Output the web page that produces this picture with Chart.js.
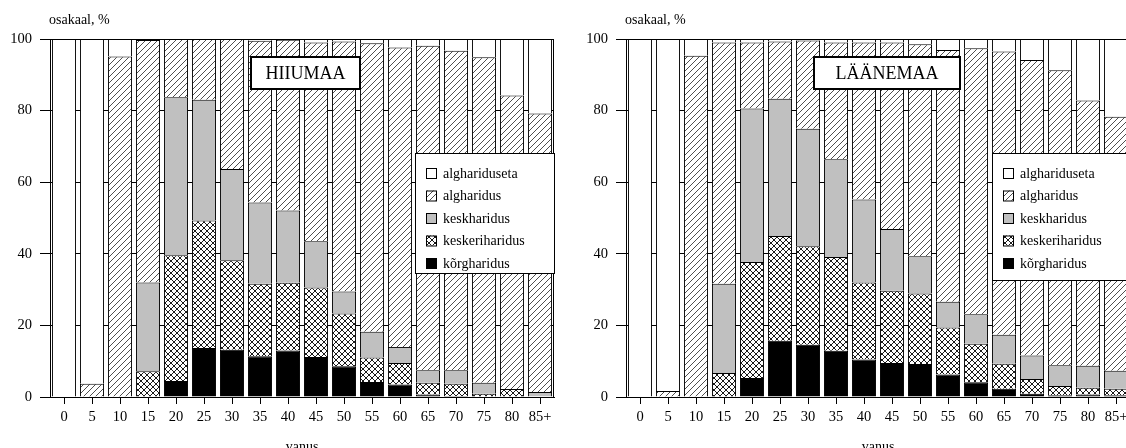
<!DOCTYPE html>
<html>
<head>
<meta charset="utf-8">
<script src="https://cdn.jsdelivr.net/npm/chart.js@4"></script>
<style>
  html, body { margin: 0; padding: 0; background: #fff; overflow: hidden; width: 1126px; height: 448px; }
  canvas { position: absolute; top: 0; }
  #hiiumaa { left: 0; }
  #laanemaa { left: 576px; }
</style>
</head>
<body>
<canvas id="hiiumaa" width="563" height="448"></canvas>
<canvas id="laanemaa" width="563" height="448"></canvas>
<script>
// vanuserühmad
const ageGroups = ["0", "5", "10", "15", "20", "25", "30", "35", "40", "45", "50", "55", "60", "65", "70", "75", "80", "85+"];
const yTicks = [0, 20, 40, 60, 80, 100];

// haridustasemed, alt üles
const levelNames = ["kõrgharidus", "keskeriharidus", "keskharidus", "algharidus", "alghariduseta"];

// HIIUMAA, osakaal %
const hiiKorg   = [0, 0, 0, 0, 4.5, 13.7, 13.2, 11.4, 13.0, 11.2, 8.6, 4.2, 3.5, 0.7, 0.3, 0, 0, 0];
const hiiKeskeri = [0, 0, 0, 7.2, 35.1, 35.6, 25.0, 20.2, 18.9, 19.4, 14.7, 6.8, 6.0, 3.3, 3.4, 0.9, 2.2, 0];
const hiiKesk   = [0, 0, 0, 24.8, 44.1, 33.7, 25.5, 22.7, 20.2, 12.9, 6.2, 7.2, 4.5, 3.5, 3.8, 3.1, 0, 1.4];
const hiiAlg    = [0, 3.7, 95.1, 67.7, 16.3, 17.0, 36.3, 45.2, 47.7, 55.5, 69.8, 80.6, 83.6, 90.6, 89.2, 90.9, 82.0, 77.8];
const hiiAlgta  = [100, 96.3, 4.9, 0.3, 0, 0, 0, 0.5, 0.2, 1.0, 0.7, 1.2, 2.4, 1.9, 3.3, 5.1, 15.8, 20.8];

// LÄÄNEMAA, osakaal %
const laaKorg   = [0, 0, 0, 0, 5.3, 15.7, 14.6, 12.9, 10.5, 9.5, 9.2, 6.3, 4.1, 2.3, 0.9, 0.5, 0.7, 0.5];
const laaKeskeri = [0, 0, 0, 6.7, 32.4, 29.3, 27.5, 26.2, 21.5, 20.2, 19.7, 13.1, 10.8, 7.0, 4.1, 2.6, 1.9, 1.8];
const laaKesk   = [0, 0, 0, 24.9, 42.9, 38.3, 32.8, 27.3, 23.2, 17.2, 10.4, 7.2, 8.2, 8.1, 6.6, 5.8, 6.1, 5.0];
const laaAlg    = [0, 1.7, 95.3, 67.4, 18.4, 16.0, 24.7, 32.6, 43.8, 52.1, 59.2, 70.3, 74.3, 79.1, 82.5, 82.4, 74.1, 71.0];
const laaAlgta  = [100, 98.3, 4.7, 1.0, 1.0, 0.7, 0.4, 1.0, 1.0, 1.0, 1.5, 3.1, 2.6, 3.5, 5.9, 8.7, 17.2, 21.7];

const serif = "'Liberation Serif', 'Times New Roman', serif";
Chart.defaults.font.family = serif;
Chart.defaults.color = "#000";

function makePatterns(ctx) {
  const hatch = document.createElement("canvas");
  hatch.width = hatch.height = 6;
  const h = hatch.getContext("2d");
  h.fillStyle = "#fff";
  h.fillRect(0, 0, 6, 6);
  h.strokeStyle = "#222";
  h.lineWidth = 0.8;
  h.beginPath();
  h.moveTo(0, 6); h.lineTo(6, 0);
  h.moveTo(-1, 1); h.lineTo(1, -1);
  h.moveTo(5, 7); h.lineTo(7, 5);
  h.stroke();

  const cross = document.createElement("canvas");
  cross.width = cross.height = 6;
  const c = cross.getContext("2d");
  c.fillStyle = "#fff";
  c.fillRect(0, 0, 6, 6);
  c.strokeStyle = "#000";
  c.lineWidth = 0.9;
  c.beginPath();
  c.moveTo(0, 6); c.lineTo(6, 0);
  c.moveTo(0, 0); c.lineTo(6, 6);
  c.stroke();

  return {
    hatch: ctx.createPattern(hatch, "repeat"),
    cross: ctx.createPattern(cross, "repeat"),
  };
}

const overlay = {
  id: "overlay",
  afterDraw(chart, args, opts) {
    const { ctx, chartArea: a } = chart;
    ctx.save();
    ctx.strokeStyle = "#000";
    ctx.lineWidth = 1;
    ctx.beginPath();
    ctx.moveTo(a.left, a.top + 0.5);
    ctx.lineTo(a.right, a.top + 0.5);
    ctx.moveTo(a.right - 0.5, a.top);
    ctx.lineTo(a.right - 0.5, a.bottom);
    ctx.stroke();

    ctx.fillStyle = "#000";
    ctx.font = "14px " + serif;
    ctx.textBaseline = "middle";
    ctx.textAlign = "left";
    ctx.fillText("osakaal, %", a.left - 1, 20);
    ctx.textAlign = "center";
    ctx.fillText("vanus", (a.left + a.right) / 2, 447);

    // maakonna nimi
    const bx = a.left + opts.boxX, by = 57;
    ctx.fillStyle = "#fff";
    ctx.fillRect(bx, by, opts.boxW, 32);
    ctx.lineWidth = 2;
    ctx.strokeRect(bx, by, opts.boxW, 32);
    ctx.fillStyle = "#000";
    ctx.font = "18px " + serif;
    ctx.fillText(opts.region, bx + opts.boxW / 2, by + 17);

    // legend
    const lx = a.left + opts.legendX, ly = 153.5;
    ctx.lineWidth = 1;
    ctx.fillStyle = "#fff";
    ctx.fillRect(lx, ly, a.right - lx, opts.legendH);
    ctx.strokeRect(lx + 0.5, ly, a.right - lx, opts.legendH);
    ctx.font = "14px " + serif;
    ctx.textAlign = "left";
    const sets = chart.data.datasets.slice().reverse();
    sets.forEach((ds, i) => {
      const y = 173 + i * 22.5;
      ctx.fillStyle = ds.backgroundColor;
      ctx.fillRect(lx + 11, y - 5, 10, 10);
      ctx.strokeRect(lx + 11.5, y - 4.5, 10, 10);
      ctx.fillStyle = "#000";
      ctx.fillText(ds.label, lx + 28, y + 1);
    });
    ctx.restore();
  },
};

function renderEducationChart(canvasId, values, region, boxX, boxW, legendX, legendH) {
  const canvas = document.getElementById(canvasId);
  const ctx = canvas.getContext("2d");
  const p = makePatterns(ctx);
  const fills = ["#000", p.cross, "#c0c0c0", p.hatch, "#fff"];

  const datasets = levelNames.map((name, i) => ({
    label: name,
    data: values[i],
    backgroundColor: fills[i],
    borderColor: "#000",
    borderWidth: { top: 1, left: 1, right: 1, bottom: 0 },
    borderSkipped: false,
    barPercentage: 0.86,
    categoryPercentage: 1,
  }));

  new Chart(canvas, {
    type: "bar",
    data: { labels: ageGroups, datasets: datasets },
    options: {
      responsive: false,
      devicePixelRatio: 1,
      animation: false,
      layout: { padding: { top: 39, right: 9, bottom: 0, left: 0 } },
      plugins: {
        legend: { display: false },
        tooltip: { enabled: false },
        overlay: { region: region, boxX: boxX, boxW: boxW, legendX: legendX, legendH: legendH },
      },
      scales: {
        x: {
          stacked: true,
          grid: { display: true, drawOnChartArea: false, drawTicks: true, tickLength: 7, offset: false, color: "#000" },
          border: { display: true, color: "#000" },
          ticks: { font: { size: 14.5 }, padding: 4, maxRotation: 0, autoSkip: false },
          afterFit: (s) => { s.height = 51; },
        },
        y: {
          stacked: true,
          min: 0,
          max: 100,
          afterBuildTicks: (s) => { s.ticks = yTicks.map((v) => ({ value: v })); },
          grid: { color: "#000", tickLength: 10 },
          border: { display: true, color: "#000" },
          ticks: { font: { size: 14.5 }, padding: 8 },
          afterFit: (s) => { s.width = 50; },
        },
      },
    },
    plugins: [overlay],
  });
}

renderEducationChart("hiiumaa", [hiiKorg, hiiKeskeri, hiiKesk, hiiAlg, hiiAlgta], "HIIUMAA", 201, 109, 365, 120);
renderEducationChart("laanemaa", [laaKorg, laaKeskeri, laaKesk, laaAlg, laaAlgta], "LÄÄNEMAA", 188, 146, 366, 127);
</script>
</body>
</html>
